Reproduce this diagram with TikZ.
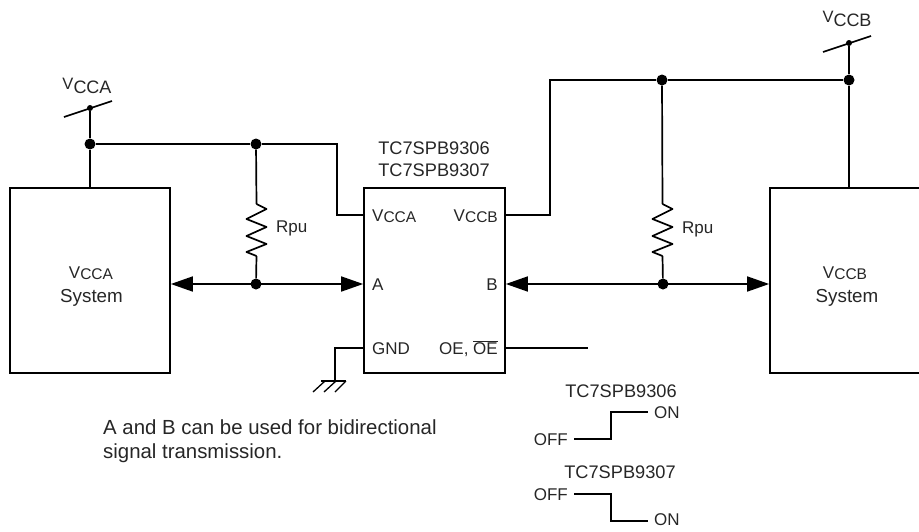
\documentclass[tikz,border=0pt]{standalone}
\usepackage{fontspec}
\usepackage{tikz}
\setmainfont{Liberation Sans}
\usetikzlibrary{arrows.meta}

\newcommand{\vbig}[1]{{\fontsize{16.5}{16.5}\selectfont V\raisebox{-3.5pt}{\fontsize{18}{18}\selectfont CC#1}}}
\newcommand{\vsml}[1]{{\fontsize{17}{17}\selectfont V\raisebox{-1.5pt}{\fontsize{15.5}{15.5}\selectfont CC#1}}}

\tikzset{
  wire/.style={line width=1.7pt},
  thinwire/.style={line width=1.3pt},
  bus/.style={wire, {Triangle[length=22pt,width=15pt]}-{Triangle[length=22pt,width=15pt]}},
  block/.style={draw, line width=1.7pt, inner sep=0pt},
  dot/.style={circle, fill=black, inner sep=0pt, minimum size=11pt},
  tiedot/.style={circle, fill=black, inner sep=0pt, minimum size=6pt},
  lbl/.style={inner sep=0pt, font=\fontsize{17}{20}\selectfont, text=black!85},
  partlbl/.style={lbl, font=\fontsize{18.2}{20}\selectfont},
  syslbl/.style={lbl, font=\fontsize{18.8}{20}\selectfont},
  notelbl/.style={lbl, anchor=base west, font=\fontsize{20.4}{24}\selectfont},
}
\newcommand{\zigzag}[1]{
  \draw[wire, line join=round] (#1) -- ++(10,5) -- ++(-20,10) -- ++(20,8) -- ++(-20,9) -- ++(20,8) -- ++(-20,8) -- ++(10,4);
}

\begin{document}
\begin{tikzpicture}[x=1pt,y=-1pt]
\useasboundingbox (0,0) rectangle (919,531);

\node[block, minimum width=160pt, minimum height=185pt] (sysa) at (90,280.5) {};
\node[block, minimum width=141pt, minimum height=185pt] (chip) at (434.5,280.5) {};
\node[block, minimum width=160pt, minimum height=185pt] (sysb) at (850,280.5) {};

\node[lbl] (sysat) at (91,273) {\vsml{A}};
\node[syslbl] (sysan) at (91.5,298) {System};
\node[lbl] (sysbt) at (845,273) {\vsml{B}};
\node[syslbl] (sysbn) at (847,298) {System};

\node[partlbl] (name6) at (434,148) {TC7SPB9306};
\node[partlbl] (name7) at (434,170) {TC7SPB9307};

\node[lbl, anchor=west] (pva) at (372,216) {\vsml{A}};
\node[lbl, anchor=east] (pvb) at (498,216) {\vsml{B}};
\node[lbl, anchor=west] (pa) at (372,285) {A};
\node[lbl, anchor=east] (pb) at (498,285) {B};
\node[lbl, anchor=west] (pgnd) at (372,349) {GND};
\node[lbl, anchor=east] (poe) at (498,349) {OE, $\overline{\mbox{OE}}$};

\node[dot] (ja) at (90,144) {};
\node[dot] (jra) at (256,144) {};
\node[dot] (jba) at (256,284) {};
\node[dot] (jrb) at (662,80) {};
\node[dot] (jb) at (849,80) {};
\node[dot] (jbb) at (663,284) {};
\node[tiedot] (ta) at (90,108) {};
\node[tiedot] (tb) at (849,43) {};

\node[lbl] (vcca) at (87,86) {\vbig{A}};
\node[lbl] (vccb) at (847,19) {\vbig{B}};
\node[lbl, anchor=west] (rpua) at (276,228) {Rpu};
\node[lbl, anchor=west] (rpub) at (682,229) {Rpu};

\coordinate (ra1) at (256.5,204);
\coordinate (ra2) at (256.5,256);
\coordinate (rb1) at (662.5,204);
\coordinate (rb2) at (662.5,256);

\draw[wire] (ta) -- (ja);
\draw[wire] (ja) -- (sysa.north -| ja);
\draw[wire] (ja) -- (jra);
\draw[wire] (jra) -- (337,144) -- (337,215) -- (364,215);
\draw[wire] (jra) -- (ra1);
\zigzag{ra1}
\draw[wire] (ra2) -- (jba);
\draw[bus] (sysa.east |- jba) -- (chip.west |- jba);

\draw[wire] (505,215) -- (550,215) -- (550,80) -- (jrb);
\draw[wire] (jrb) -- (jb);
\draw[wire] (tb) -- (jb);
\draw[wire] (jb) -- (sysb.north -| jb);
\draw[wire] (jrb) -- (rb1);
\zigzag{rb1}
\draw[wire] (rb2) -- (jbb);
\draw[bus] (chip.east |- jbb) -- (sysb.west |- jbb);
\draw[wire] (505,348) -- (588,348);

\draw[wire] (64,117) -- (112,101);
\draw[wire] (823,52) -- (871,36);

\draw[wire] (364,348) -- (335,348) -- (335,381);
\draw[wire] (321,381) -- (346,381);
\draw[thinwire] (325,381) -- (313,392);
\draw[thinwire] (336,381) -- (324,392);
\draw[thinwire] (346,381) -- (335,392);

\node[notelbl] (note1) at (103,434) {A and B can be used for bidirectional};
\node[notelbl] (note2) at (103,458) {signal transmission.};

\node[partlbl] (sw6) at (621,391) {TC7SPB9306};
\node[lbl, anchor=east] (off6) at (568,440) {OFF};
\node[lbl, anchor=west] (on6) at (654,413) {ON};
\draw[wire] (574,439) -- (611,439) -- (611,412) -- (648,412);

\node[partlbl] (sw7) at (620,472) {TC7SPB9307};
\node[lbl, anchor=east] (off7) at (568,495) {OFF};
\node[lbl, anchor=west] (on7) at (654,520) {ON};
\draw[wire] (574,494) -- (611,494) -- (611,521) -- (648,521);
\end{tikzpicture}
\end{document}
